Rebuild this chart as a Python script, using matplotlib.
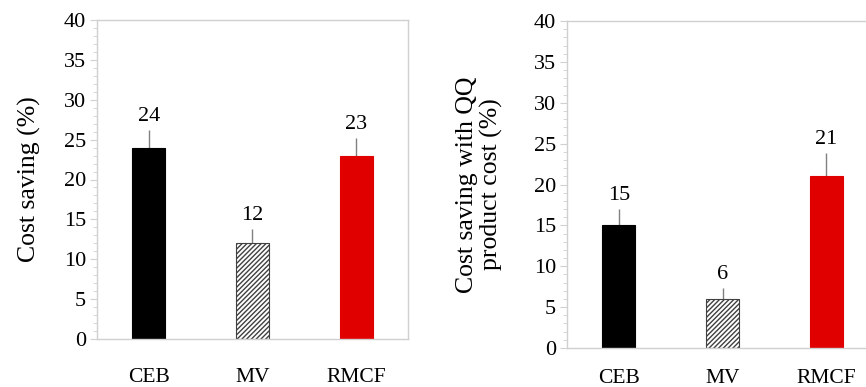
import matplotlib
matplotlib.use('Agg')
import matplotlib.pyplot as plt
from matplotlib.ticker import MultipleLocator

plt.rcParams['font.family'] = ['Liberation Serif', 'DejaVu Serif']
plt.rcParams['hatch.linewidth'] = 1.0

# data
categories = ['CEB', 'MV', 'RMCF']
saving = [24, 12, 23]
saving_err = [2.2, 1.8, 2.2]
saving_qq = [15, 6, 21]
saving_qq_err = [2.0, 1.3, 2.8]

colors = ['black', 'white', '#e00000']
hatches = ['', '///////', '']
edges = ['black', '#404040', '#e00000']
grid_col = '#d0d0d0'

fig = plt.figure(figsize=(8.66, 3.87), dpi=100)
ax1 = fig.add_axes([97/866, 1-339/387, 311/866, 319/387])
ax2 = fig.add_axes([567/866, 1-348/387, 311/866, 327/387])


def draw(ax, vals, errs, ylabel, xpad):
    x = range(len(categories))
    ax.bar(x, vals, width=0.32, color=colors, edgecolor=edges,
           hatch=hatches, linewidth=0.8, zorder=2)
    ax.errorbar(x, vals, yerr=[[0]*len(errs), errs], fmt='none',
                ecolor='#808080', elinewidth=1, capsize=0, zorder=1)
    for i, (v, e) in enumerate(zip(vals, errs)):
        ax.text(i, v + e + 0.5, str(v), ha='center', va='bottom', fontsize=16)
    ax.set_xlim(-0.5, 2.5)
    ax.set_ylim(0, 40)
    ax.yaxis.set_major_locator(MultipleLocator(5))
    ax.yaxis.set_minor_locator(MultipleLocator(1))
    ax.set_xticks(list(x))
    ax.set_xticklabels(categories, fontsize=15.5)
    ax.tick_params(axis='x', length=0, pad=xpad)
    ax.tick_params(axis='y', which='major', labelsize=16, length=5,
                   color=grid_col, pad=3)
    ax.tick_params(axis='y', which='minor', length=3, color=grid_col)
    for s in ax.spines.values():
        s.set_color(grid_col)
        s.set_linewidth(1)
    ax.set_ylabel(ylabel, fontsize=18.5, linespacing=1.15)


draw(ax1, saving, saving_err, 'Cost saving (%)', 21)
draw(ax2, saving_qq, saving_qq_err, 'Cost saving with QQ\nproduct cost (%)', 15)
ax1.yaxis.set_label_coords(-0.18, 0.5)
ax2.yaxis.set_label_coords(-0.205, 0.5)

fig.savefig('out.png', dpi=100)
